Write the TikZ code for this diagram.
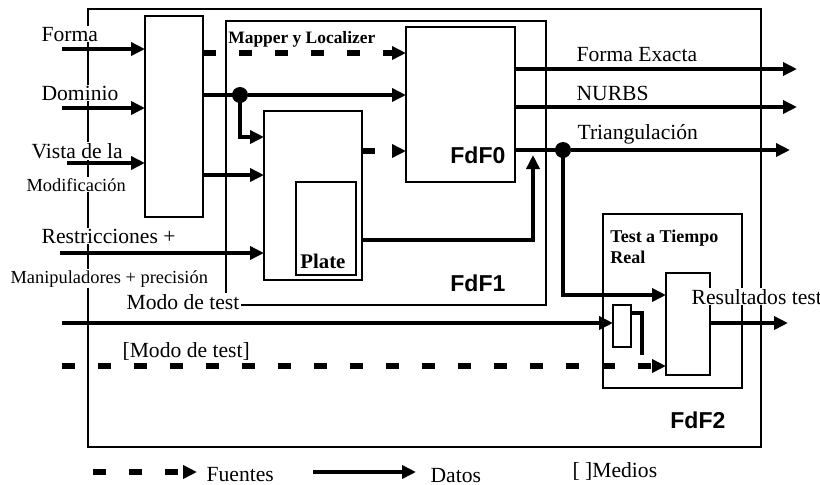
\documentclass[tikz,border=0pt]{standalone}
\usepackage{fontspec}
\setmainfont{Liberation Serif}
\newfontfamily\arialfont{Liberation Sans}
\usetikzlibrary{arrows.meta,positioning}

\tikzset{
  bloque/.style={draw,line width=1.3pt,inner sep=0pt,outer sep=0pt},
  linea/.style={line width=2.3pt},
  datos/.style={linea,-{Triangle[length=7pt,width=6.5pt]}},
  fuentes/.style={line width=3pt,dash pattern=on 6.5pt off 11.5pt,-{Triangle[length=7pt,width=6.5pt]}},
  union/.style={circle,fill,minimum size=8pt,inner sep=0pt},
  etiq/.style={font=\fontsize{10.8}{12}\selectfont,inner sep=0.6pt,fill=white,anchor=base west},
  etiqp/.style={etiq,font=\fontsize{9.2}{11}\selectfont},
  titulo/.style={font=\bfseries\fontsize{9}{10}\selectfont,inner sep=0pt,anchor=base west},
  fdf/.style={font=\arialfont\bfseries\fontsize{11.5}{13}\selectfont,inner sep=0pt,anchor=base west}
}

\begin{document}
\begin{tikzpicture}[x=0.5pt,y=-0.5pt]
  \useasboundingbox (0,0) rectangle (820,484);

  % bloques
  \node[bloque,minimum width=336.5pt,minimum height=219pt] (fdf2) at (424.5,228) {};
  \node[bloque,minimum width=160pt,minimum height=142pt] (fdf1) at (386,163) {};
  \node[bloque,minimum width=29pt,minimum height=100.5pt] (inblk) at (174,116.5) {};
  \node[bloque,minimum width=54.5pt,minimum height=77.5pt] (fdf0) at (460.5,104.5) {};
  \node[bloque,minimum width=49pt,minimum height=84.5pt] (locbox) at (313,195.5) {};
  \node[bloque,minimum width=30pt,minimum height=46.5pt] (plate) at (326,228.5) {};
  \node[bloque,minimum width=69.5pt,minimum height=87pt] (trt) at (672.5,301) {};
  \node[bloque,minimum width=22pt,minimum height=51pt] (tcore) at (688,324) {};
  \node[bloque,minimum width=9pt,minimum height=21pt] (tsmall) at (622,326) {};

  % titulos
  \node[titulo,font=\bfseries\fontsize{8.7}{10}\selectfont] (tMapper) at (228,43) {Mapper y Localizer};
  \node[titulo,font=\bfseries\fontsize{10.4}{12}\selectfont] (tPlate) at (300,268) {Plate};
  \node[titulo] (tTest) at (610,242) {Test a Tiempo};
  \node[titulo] (tReal) at (610,263) {Real};
  \node[fdf] (tFdF0) at (450,163) {FdF0};
  \node[fdf] (tFdF1) at (450,291) {FdF1};
  \node[fdf] (tFdF2) at (670,428) {FdF2};

  % etiquetas de entrada y salida
  \node[etiq] (lForma) at (40,41) {Forma};
  \node[etiq] (lDominio) at (40,100) {Dominio};
  \node[etiq] (lVista) at (30,158) {Vista de la};
  \node[etiqp] (lModif) at (25,191) {Modificación};
  \node[etiq] (lRestr) at (40,243) {Restricciones +};
  \node[etiqp] (lManip) at (9,283) {Manipuladores + precisión};
  \node[etiq] (lModo) at (125,309) {Modo de test};
  \node[etiq] (lModoM) at (121,357) {[Modo de test]};
  \node[etiq] (lExacta) at (575,61) {Forma Exacta};
  \node[etiq] (lNurbs) at (575,100) {NURBS};
  \node[etiq] (lTri) at (576,139) {Triangulación};
  \node[etiq] (lRes) at (690,304) {Resultados test};

  % entradas
  \coordinate (sForma) at (62,49);
  \coordinate (sDominio) at (62,108);
  \coordinate (sVista) at (67,163);
  \coordinate (sRestr) at (60,253);
  \coordinate (sModo) at (62,323);
  \coordinate (sModoM) at (62,366);
  \draw[datos] (sForma) -- (sForma -| inblk.west);
  \draw[datos] (sDominio) -- (sDominio -| inblk.west);
  \draw[datos] (sVista) -- (sVista -| inblk.west);
  \draw[datos] (sRestr) -- (sRestr -| locbox.west);
  \draw[datos] (sModo) -- (sModo -| tsmall.west);
  \draw[fuentes] (sModoM) -- (sModoM -| tcore.west);

  % conexiones internas
  \coordinate (y53) at (0,53);
  \coordinate (y151) at (0,151);
  \coordinate (y175) at (0,175);
  \draw[fuentes] (inblk.east |- y53) -- (fdf0.west |- y53);
  \node[union] (jA) at (240,95) {};
  \draw[linea] (inblk.east |- jA) -- (jA.center);
  \draw[datos] (jA) -- (jA -| fdf0.west);
  \coordinate (cBaja) at (240,137);
  \draw[datos] (jA.center) -- (cBaja) -- (cBaja -| locbox.west);
  \draw[datos] (inblk.east |- y175) -- (locbox.west |- y175);
  \draw[fuentes] (locbox.east |- y151) -- (fdf0.west |- y151);
  \coordinate (cPlate) at (533,240);
  \coordinate (cSube) at (533,155);
  \draw[datos] (locbox.east |- cPlate) -- (cPlate) -- (cSube);

  % salidas
  \coordinate (oExacta) at (797,69);
  \coordinate (oNurbs) at (797,107);
  \coordinate (oTri) at (790,150);
  \coordinate (oRes) at (788,323);
  \draw[datos] (fdf0.east |- oExacta) -- (oExacta);
  \draw[datos] (fdf0.east |- oNurbs) -- (oNurbs);
  \node[union] (jB) at (563,150) {};
  \draw[linea] (fdf0.east |- jB) -- (jB.center);
  \draw[datos] (jB) -- (oTri);
  \coordinate (cCodo) at (563,295);
  \draw[datos] (jB.center) -- (cCodo) -- (cCodo -| tcore.west);
  \draw[datos] (tcore.east |- oRes) -- (oRes);
  \coordinate (h1) at (642,313);
  \coordinate (h2) at (642,355);
  \draw[linea] (tsmall.east |- h1) -- (h1) -- (h2);

  % leyenda
  \coordinate (lf1) at (93,472);
  \coordinate (lf2) at (197,472);
  \coordinate (ld1) at (313,472);
  \coordinate (ld2) at (416,472);
  \draw[fuentes] (lf1) -- (lf2);
  \draw[datos] (ld1) -- (ld2);
  \node[etiq] (lFuentes) at (205,481) {Fuentes};
  \node[etiq] (lDatos) at (429,482) {Datos};
  \node[etiq] (lMedios) at (571,477) {[ ]Medios};
\end{tikzpicture}
\end{document}
